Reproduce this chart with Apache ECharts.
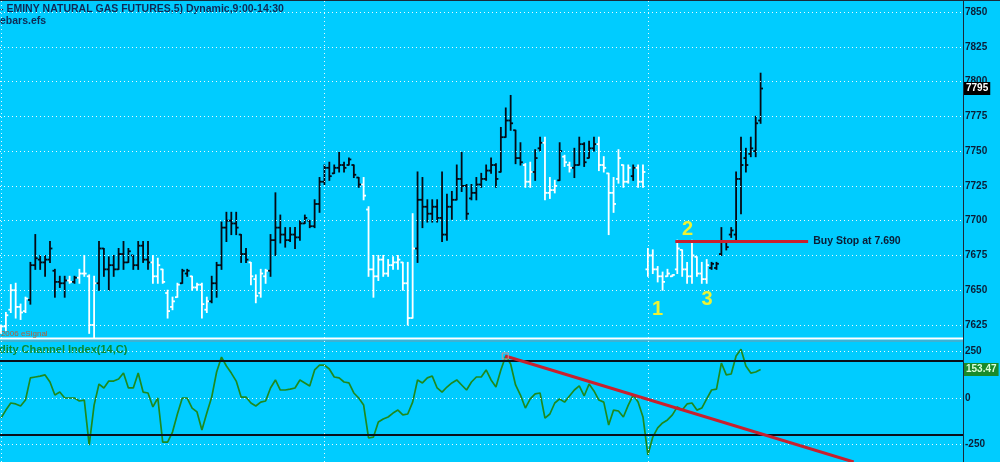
<!DOCTYPE html>
<html><head><meta charset="utf-8">
<script src="https://cdn.jsdelivr.net/npm/echarts@6/dist/echarts.min.js"></script>
<style>html,body{margin:0;padding:0;background:#00ccff;overflow:hidden}#c{width:1000px;height:462px}</style>
</head><body><div id="c"></div>
<script>
// 5-minute OHLC bars (bar index 0..155); sessions start at 0, 66, 132
const barOpen = [7621,7624,7636,7650,7638,7635,7643,7668,7672,7670,7672,7664,7656,7655,7657,7656,7659,7662,7660,7625,
7655,7680,7665,7668,7665,7676,7670,7675,7668,7682,7672,7670,7660,7665,7648,7638,7645,7655,7662,7660,
7652,7654,7636,7642,7655,7668,7695,7700,7698,7690,7676,7670,7658,7648,7660,7664,7686,7695,7690,7686,
7690,7688,7698,7700,7696,7712,
7728,7738,7734,7738,7740,7740,7740,7731,7726,7708,7665,7660,7672,7662,7668,7670,7670,7655,7630,7680,
7715,7710,7705,7710,7702,7690,7710,7715,7730,7725,7716,7720,7726,7730,7736,7740,7735,7760,7772,7765,
7745,7740,7728,7735,7752,7756,7720,7722,7729,7746,7740,7738,7740,7755,7745,7752,7755,7740,7734,7720,
7730,7740,7728,7732,7738,7728,
7665,7675,7665,7660,7660,7660,7665,7679,7665,7660,7674,7662,7658,7666,7666,7676,7685,7690,7690,7730,
7745,7748,7750,7772];
const barHigh = [7625,7634,7654,7655,7640,7645,7670,7690,7675,7675,7685,7665,7660,7660,7660,7660,7665,7675,7661,7660,
7685,7680,7674,7675,7680,7685,7680,7675,7685,7685,7685,7675,7673,7665,7650,7645,7655,7665,7665,7660,
7655,7655,7645,7660,7670,7699,7706,7706,7706,7690,7680,7670,7661,7665,7665,7690,7720,7704,7695,7695,
7695,7700,7704,7700,7715,7731,
7740,7742,7740,7749,7742,7745,7740,7731,7731,7710,7675,7675,7675,7672,7674,7675,7670,7670,7705,7735,
7731,7715,7715,7715,7735,7719,7721,7740,7749,7726,7726,7731,7734,7740,7745,7741,7767,7781,7790,7765,
7756,7741,7742,7751,7760,7760,7731,7729,7756,7747,7742,7752,7760,7756,7757,7760,7760,7746,7734,7731,
7751,7740,7740,7740,7740,7740,
7680,7679,7667,7663,7665,7661,7686,7679,7670,7686,7674,7670,7672,7670,7670,7695,7685,7695,7735,7760,
7752,7760,7775,7806];
const barLow = [7619,7621,7634,7630,7629,7634,7640,7665,7665,7660,7670,7645,7652,7645,7655,7655,7655,7660,7619,7616,
7650,7660,7650,7660,7665,7665,7670,7665,7665,7670,7665,7655,7655,7655,7630,7636,7645,7655,7660,7650,
7650,7630,7634,7641,7645,7665,7685,7690,7690,7670,7670,7654,7641,7645,7655,7660,7675,7684,7681,7685,
7680,7686,7698,7695,7695,7706,
7726,7729,7734,7735,7735,7740,7731,7724,7715,7660,7645,7657,7660,7660,7665,7665,7650,7625,7630,7670,
7695,7699,7699,7699,7685,7686,7701,7715,7721,7701,7715,7715,7724,7729,7734,7724,7735,7760,7765,7741,
7740,7724,7724,7729,7750,7715,7716,7720,7729,7739,7735,7731,7740,7739,7745,7750,7736,7735,7690,7706,
7727,7724,7727,7729,7724,7724,
7660,7662,7656,7650,7660,7660,7662,7660,7655,7655,7660,7655,7655,7665,7665,7675,7679,7688,7685,7705,
7735,7746,7746,7770];
const barClose = [7624,7632,7650,7638,7634,7644,7668,7673,7670,7672,7680,7656,7655,7657,7656,7659,7662,7662,7625,7655,
7680,7665,7668,7665,7676,7670,7678,7668,7682,7672,7670,7660,7668,7656,7635,7642,7654,7664,7664,7652,
7654,7640,7642,7655,7668,7695,7700,7698,7695,7676,7672,7660,7646,7662,7664,7686,7695,7690,7686,7690,
7688,7698,7702,7696,7712,7728,
7738,7732,7738,7740,7738,7744,7733,7726,7718,7665,7660,7672,7662,7668,7670,7672,7655,7630,7680,7715,
7710,7705,7710,7702,7690,7710,7715,7730,7725,7705,7720,7726,7730,7736,7740,7730,7760,7772,7770,7745,
7742,7728,7735,7745,7756,7720,7722,7725,7750,7742,7738,7740,7755,7742,7752,7755,7740,7738,7720,7712,
7745,7728,7738,7738,7728,7735,
7675,7665,7660,7656,7662,7661,7680,7665,7660,7675,7662,7658,7668,7669,7669,7685,7681,7693,7730,7740,
7740,7752,7770,7795];
// 1 = black bar, 0 = white bar (colorbars.efs)
const barUp = [0,0,0,0,0,0,1,1,1,1,1,1,1,1,0,1,0,0,0,0,
1,1,1,1,1,1,1,1,1,1,1,0,0,0,0,0,0,1,1,0,
0,0,0,1,1,1,1,1,1,1,1,0,0,0,0,1,1,1,1,1,
1,1,1,1,1,1,
1,1,1,1,1,1,1,1,0,0,0,0,0,0,0,0,0,0,0,1,
1,1,1,1,1,1,1,1,1,1,1,1,1,1,1,1,1,1,1,1,
1,0,0,1,1,0,0,0,1,0,0,1,1,1,1,1,0,0,0,0,
0,0,0,1,0,0,
0,0,0,0,0,0,0,0,0,0,0,0,0,1,1,1,1,1,1,1,
1,1,1,1];
// Commodity Channel Index (14, C)
const cciValues = [-108,-65,-27,-32,-43,-11,108,113,118,124,86,16,32,0,0,0,-16,-11,-253,-38,
75,54,91,91,102,134,54,54,134,32,27,-48,0,-237,-237,-183,-86,0,0,-54,
-75,-172,-81,5,140,220,172,134,91,5,5,-27,-43,-22,-16,54,97,43,43,48,
54,97,81,65,151,177,
177,156,113,108,86,81,27,0,-38,-215,-210,-129,-113,-102,-81,-65,-91,-86,-22,97,
81,108,118,54,32,59,81,97,70,43,86,113,113,151,97,59,151,226,183,70,
16,-54,-5,22,27,-108,-86,-27,-5,-22,11,43,65,11,75,38,-11,-22,-145,-65,
-70,-102,-38,16,-22,-102,
-306,-210,-161,-134,-118,-91,-48,-65,-32,-27,-65,-54,-5,43,48,188,124,129,226,262,
172,134,140,153.47];
const priceTicks = [7625,7650,7675,7700,7725,7750,7775,7800,7825,7850];
const cciTicks = [-250,0,250];
const cciBands = [-200,200];
const sessionStarts = [0,66,132];
const lastPrice = 7795;
const lastCci = 153.47;
const buyStop = {price:7685, from:137.6, to:164.7, text:'Buy Stop at 7.690'};
const cciTrend = {from:[102.9,226], to:[174,-344]};
const waveLabels = [{n:'1', i:134.0, p:7635.8},{n:'2', i:140.1, p:7693.3},{n:'3', i:144.1, p:7643.3}];

const ohlcRows = barOpen.map((o, i) => [i, o, barHigh[i], barLow[i], barClose[i], barUp[i]]);
const cciRows = cciValues.map((v, i) => [i, v]);

const BG = '#00ccff';
const DOT = {color:'rgba(255,255,255,0.9)', type:[1,3], width:1};
const AXT = {color:'#0b1d36', fontSize:10, fontWeight:'bold', fontFamily:'Arial', margin:2};

const chart = echarts.init(document.getElementById('c'), null, {renderer:'canvas'});
const xBase = {type:'value', min:-0.2, max:196.3, show:false};
const yBase = {type:'value', position:'right', axisLine:{show:false}, axisTick:{show:false}, splitLine:{show:false}};
chart.setOption({
  animation:false,
  backgroundColor:BG,
  grid:[{left:0, right:37, top:0, height:338},{left:0, right:37, top:341, height:121}],
  xAxis:[Object.assign({gridIndex:0}, xBase), Object.assign({gridIndex:1}, xBase)],
  yAxis:[
    Object.assign({gridIndex:0, min:7615.65, max:7858.63,
      axisLabel:Object.assign({customValues:priceTicks, formatter:v => String(v)}, AXT)}, yBase),
    Object.assign({gridIndex:1, min:-344.1, max:306.5,
      axisLabel:Object.assign({customValues:cciTicks, formatter:v => String(v)}, AXT)}, yBase)
  ],
  series:[
    { // price grid lines
      type:'line', xAxisIndex:0, yAxisIndex:0, data:[], z:1, silent:true,
      markLine:{symbol:['none','none'], silent:true, animation:false, label:{show:false}, lineStyle:DOT,
        data:[...priceTicks.map(v => ({yAxis:v})), ...sessionStarts.map(v => ({xAxis:v}))]}
    },
    { // OHLC bars
      type:'custom', xAxisIndex:0, yAxisIndex:0, data:ohlcRows, z:3, silent:true,
      encode:{x:0, y:[1,2,3,4]},
      renderItem:(params, api) => {
        const i = api.value(0);
        const pH = api.coord([i, api.value(2)]), pL = api.coord([i, api.value(3)]);
        const pO = api.coord([i, api.value(1)]), pC = api.coord([i, api.value(4)]);
        const col = api.value(5) ? '#050a14' : '#ffffff';
        const st = {stroke:col, lineWidth:1.8};
        return {type:'group', children:[
          {type:'line', shape:{x1:pH[0], y1:pH[1]-0.5, x2:pL[0], y2:pL[1]+0.5}, style:st},
          {type:'line', shape:{x1:pO[0]-2.4, y1:pO[1], x2:pO[0], y2:pO[1]}, style:st},
          {type:'line', shape:{x1:pC[0], y1:pC[1], x2:pC[0]+2.4, y2:pC[1]}, style:st}
        ]};
      }
    },
    { // annotations on price pane
      type:'line', xAxisIndex:0, yAxisIndex:0, data:[], z:5, silent:true,
      markLine:{symbol:['none','none'], silent:true, animation:false,
        data:[
          [{coord:[buyStop.from, buyStop.price], lineStyle:{color:'#c8202e', width:3, type:'solid'},
            label:{show:true, position:'end', formatter:buyStop.text, color:'#0b1d36', fontSize:10.5, fontWeight:'bold', fontFamily:'Arial', distance:5}},
           {coord:[buyStop.to, buyStop.price]}]
        ]},
      markPoint:{symbol:'circle', symbolSize:1, itemStyle:{color:'rgba(0,0,0,0)'}, animation:false,
        label:{show:true, position:'inside', formatter:p => p.name, color:'#eef232', fontSize:20, fontWeight:'bold', fontFamily:'Arial'},
        data:waveLabels.map(w => ({name:w.n, coord:[w.i, w.p]}))}
    },
    { // last price box
      type:'line', xAxisIndex:0, yAxisIndex:0, data:[], z:6, silent:true,
      markLine:{symbol:['none','none'], silent:true, animation:false,
        lineStyle:{color:'rgba(0,0,0,0)', width:0.01, type:'solid'},
        data:[{yAxis:lastPrice,
           label:{show:true, position:'end', distance:1, formatter:String(lastPrice), color:'#ffffff', backgroundColor:'#000000',
                  fontSize:10, fontWeight:'bold', fontFamily:'Arial', padding:[2,2,1,2]}}]}
    },
    { // CCI grid lines
      type:'line', xAxisIndex:1, yAxisIndex:1, data:[], z:1, silent:true,
      markLine:{symbol:['none','none'], silent:true, animation:false, label:{show:false}, lineStyle:DOT,
        data:[...cciTicks.map(v => ({yAxis:v})), ...sessionStarts.map(v => ({xAxis:v})),
              ...cciBands.map(v => ({yAxis:v, lineStyle:{color:'#0a0f1a', type:'solid', width:2}}))]}
    },
    { // CCI line
      type:'line', xAxisIndex:1, yAxisIndex:1, data:cciRows, z:3, silent:true, clip:false,
      symbol:'none', lineStyle:{color:'#1e8a1e', width:1.7}
    },
    { // CCI trendline
      type:'line', xAxisIndex:1, yAxisIndex:1, data:[], z:4, silent:true,
      markLine:{symbol:['none','none'], silent:true, animation:false,
        data:[
          [{coord:cciTrend.from, lineStyle:{color:'#c8202e', width:3, type:'solid'}, label:{show:false}}, {coord:cciTrend.to}]
        ]},
      markPoint:{symbol:'rect', symbolSize:6, animation:false, label:{show:false},
        itemStyle:{color:'rgba(0,0,0,0)', borderColor:'#d09090', borderWidth:1},
        data:[{coord:cciTrend.from}]}
    },
    { // CCI last value box
      type:'line', xAxisIndex:1, yAxisIndex:1, data:[], z:6, silent:true,
      markLine:{symbol:['none','none'], silent:true, animation:false,
        lineStyle:{color:'rgba(0,0,0,0)', width:0.01, type:'solid'},
        data:[{yAxis:lastCci,
           label:{show:true, position:'end', distance:1, formatter:String(lastCci), color:'#d8ffd8', backgroundColor:'#1a8a2a',
                  fontSize:10, fontWeight:'bold', fontFamily:'Arial', padding:[2,2,1,2]}}]}
    }
  ],
  graphic:[
    {type:'rect', shape:{x:0, y:0, width:1000, height:1}, style:{fill:'#1a2a3a'}, silent:true},
    {type:'line', shape:{x1:963.5, y1:0, x2:963.5, y2:462}, style:{stroke:'#1a2a3a', lineWidth:1}, silent:true},
    {type:'line', shape:{x1:0, y1:338.5, x2:963, y2:338.5}, style:{stroke:'#ffffff', lineWidth:2}, silent:true},
    {type:'line', shape:{x1:0, y1:341, x2:963, y2:341}, style:{stroke:'#7a98a8', lineWidth:1}, silent:true},
    {type:'text', x:0, y:4, silent:true, style:{text:'- EMINY NATURAL GAS FUTURES,5) Dynamic,9:00-14:30', font:'bold 10.5px Arial', fill:'#0f2a55', verticalAlign:'top'}},
    {type:'text', x:0, y:16, silent:true, style:{text:'ebars.efs', font:'bold 10.5px Arial', fill:'#0f2a55', verticalAlign:'top'}},
    {type:'text', x:-5, y:330, silent:true, style:{text:'\u00a92006 eSignal', font:'8px Arial', fill:'#b0603a', verticalAlign:'top'}},
    {type:'text', x:-1, y:344, silent:true, style:{text:'dity Channel Index(14,C)', font:'bold 11px Arial', fill:'#0b8a32', verticalAlign:'top'}}
  ]
});
</script>
</body></html>
